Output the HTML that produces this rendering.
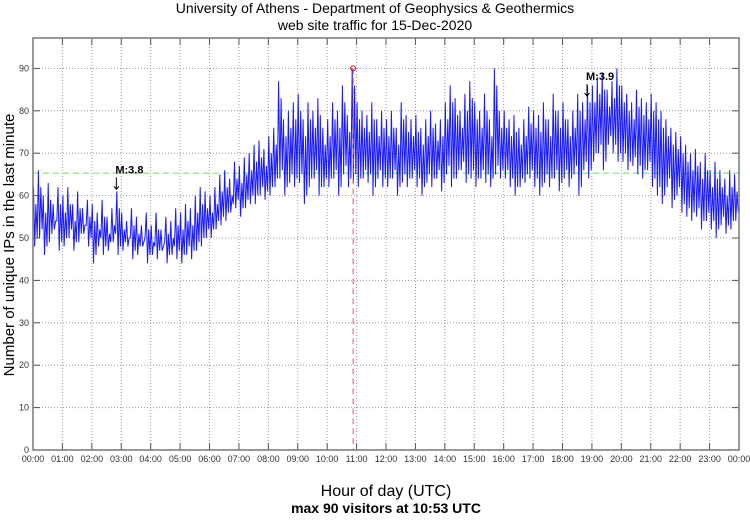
<!DOCTYPE html>
<html><head><meta charset="utf-8"><style>
body{margin:0;background:#fff;}
svg text{font-family:"Liberation Sans",sans-serif;}
</style></head><body>
<svg id="chart" width="750" height="515" viewBox="0 0 750 515">
<text x="375" y="13" text-anchor="middle" font-size="14">University of Athens - Department of Geophysics &amp; Geothermics</text>
<text x="375" y="30" text-anchor="middle" font-size="14">web site traffic for 15-Dec-2020</text>
<g id="grid"></g>
<g id="series"></g>
<g id="axes"></g>
<text transform="translate(14,245) rotate(-90)" text-anchor="middle" font-size="15">Number of unique IPs in the last minute</text>
<text x="386" y="496" text-anchor="middle" font-size="16">Hour of day (UTC)</text>
<text x="386" y="513" text-anchor="middle" font-size="14" font-weight="bold">max 90 visitors at 10:53 UTC</text>
</svg>
<script>
const hourLabels=["00:00","01:00","02:00","03:00","04:00","05:00","06:00","07:00","08:00","09:00","10:00","11:00","12:00","13:00","14:00","15:00","16:00","17:00","18:00","19:00","20:00","21:00","22:00","23:00","00:00"];
const yTicks=[0,10,20,30,40,50,60,70,80,90];
const binHi=[62,66,60,63,58,62, 60,62,58,61,57,59, 58,56,59,55,57,61, 56,54,57,55,53,56, 53,56,52,55,54,57, 56,58,57,60,62,61,
60,62,65,66,64,68, 67,69,70,72,73,71, 74,76,87,78,80,82, 84,78,82,80,83,76, 78,82,80,86,79,90, 82,80,79,82,78,80,
78,80,76,82,79,78, 79,76,78,80,77,78, 82,86,83,80,84,87, 82,80,84,78,90,80, 80,78,79,76,78,81, 80,79,82,78,84,80,
82,78,80,84,82,86, 86,88,89,85,87,90, 86,84,82,85,83,82, 84,82,80,78,76,75, 74,72,70,71,68,70, 66,68,66,64,66,65];
const binLo=[48,50,46,49,52,47, 48,50,47,49,51,48, 44,48,46,47,49,46, 47,48,45,46,48,44, 46,45,47,44,46,45, 44,46,45,47,48,50,
50,52,53,54,56,57, 55,57,58,58,60,59, 60,62,64,60,63,62, 63,58,62,64,60,62, 62,64,60,65,62,63, 62,64,63,60,64,62,
62,64,60,63,62,64, 62,60,63,62,64,61, 65,62,64,66,63,64, 62,64,63,62,65,64, 64,62,60,62,63,64, 62,60,63,62,64,61,
64,62,65,60,66,64, 68,70,66,72,70,68, 68,66,67,65,64,66, 62,60,58,62,57,60, 56,55,54,55,52,54, 52,50,53,51,52,54];
const meanLevel=65.3;
const maxMinute=653, maxValue=90;
const peaks=[{min:170,val:61,label:"M:3.8"},{min:1130,val:83,label:"M:3.9"}];

const NS="http://www.w3.org/2000/svg";
const X0=33,X1=739,Y0=450,YTOP=38;
const xs=m=>X0+(X1-X0)*m/1440;
const ys=v=>Y0-(Y0-68.4)*v/90;
function mk(tag,attrs,parent){const e=document.createElementNS(NS,tag);for(const k in attrs)e.setAttribute(k,attrs[k]);parent.appendChild(e);return e;}
const grid=document.getElementById('grid'),axes=document.getElementById('axes'),ser=document.getElementById('series');
hourLabels.forEach((l,i)=>{
  const x=xs(i*60);
  if(i>0&&i<24){const g=mk('line',{x1:x,x2:x,y1:YTOP,y2:Y0,stroke:'#999','stroke-width':1,'stroke-dasharray':'1,2'},grid);
  
  
  const t1=mk('line',{x1:x,x2:x,y1:Y0,y2:Y0-7,stroke:'#555'},axes);
  const t2=mk('line',{x1:x,x2:x,y1:YTOP,y2:YTOP+7,stroke:'#555'},axes);}
  const t=mk('text',{x:x,y:462,'text-anchor':'middle','font-size':9,fill:'#333'},axes);t.textContent=l;
  
  
});
yTicks.forEach(v=>{
  const y=ys(v);
  if(v>0){const g=mk('line',{x1:X0,x2:X1,y1:y,y2:y,stroke:'#999','stroke-width':1,'stroke-dasharray':'1,2'},grid);
  
  
  const t1=mk('line',{x1:X0,x2:X0+7,y1:y,y2:y,stroke:'#555'},axes);
  const t2=mk('line',{x1:X1,x2:X1-7,y1:y,y2:y,stroke:'#555'},axes);}
  const t=mk('text',{x:29,y:y+3,'text-anchor':'end','font-size':9,fill:'#333'},axes);t.textContent=v;
  
  
});
const fr=mk('rect',{x:X0,y:YTOP,width:X1-X0,height:Y0-YTOP,fill:'none',stroke:'#777','stroke-width':1.5},axes);


const ml=mk('line',{x1:X0,x2:X1,y1:ys(meanLevel),y2:ys(meanLevel),stroke:'#6d6','stroke-width':1,'stroke-dasharray':'6,4'},ser);


let pts=[];
binHi.forEach((h,i)=>{
  const lo=binLo[i],b=i*10;
  pts.push([b+1,h],[b+3.5,lo],[b+6,h-4],[b+8.5,lo+2]);
});
const pl=mk('polyline',{points:pts.map(p=>xs(p[0]).toFixed(1)+','+ys(p[1]).toFixed(1)).join(' '),fill:'none',stroke:'#0000ff','stroke-width':1,'stroke-opacity':0.9},ser);


const mxl=mk('line',{x1:xs(maxMinute),x2:xs(maxMinute),y1:ys(maxValue),y2:Y0,stroke:'#e55','stroke-width':1,'stroke-dasharray':'6,4'},ser);


const mxc=mk('circle',{cx:xs(maxMinute),cy:ys(maxValue),r:2.5,fill:'none',stroke:'#e00','stroke-width':1},ser);


peaks.forEach(p=>{
  const x=xs(p.min),y=ys(p.val);
  const t=mk('text',{x:x-1,y:y-18,'font-size':11,'font-weight':'bold'},ser);t.textContent=p.label;
  
  
  const a=mk('path',{d:`M${x},${y-14}V${y-2}M${x-2.5},${y-5}L${x},${y-2}L${x+2.5},${y-5}`,stroke:'#000',fill:'none','stroke-width':1},ser);
  
  
});
</script>
</body></html>
